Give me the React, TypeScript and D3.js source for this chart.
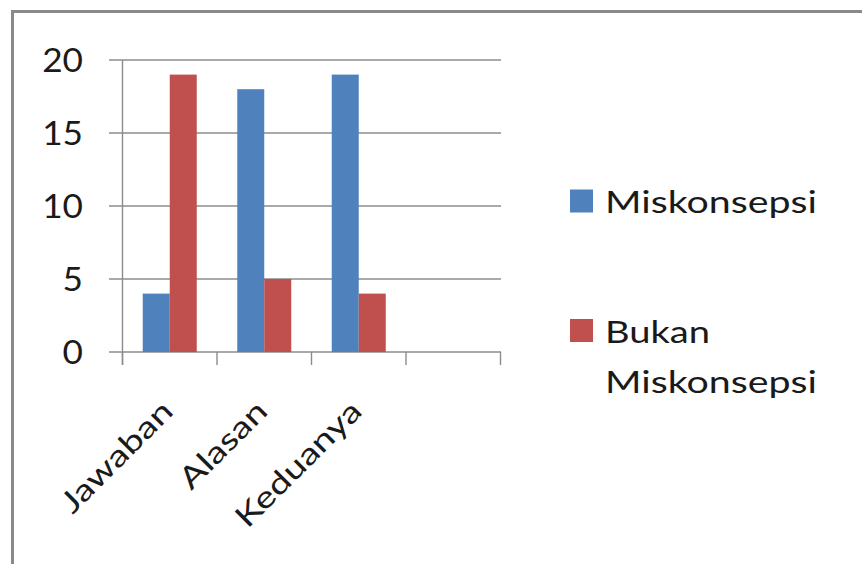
import React from "react";
import * as d3 from "d3";

const categories = ["Jawaban", "Alasan", "Keduanya", ""];
const seriesNames = ["Miskonsepsi", "Bukan Miskonsepsi"];
const miskonsepsi = [4, 18, 19, null];
const bukanMiskonsepsi = [19, 5, 4, null];
const yTicks = [0, 5, 10, 15, 20];
const colors = ["#4F81BD", "#C0504D"];

const FONT = "Lato, 'Open Sans', sans-serif";

export default function App() {
  const W = 862, H = 564;
  const x = d3.scaleBand<string>().domain(categories.map((c, i) => String(i))).range([122.5, 500.5]).padding(0);
  const xs = d3.scaleBand<string>().domain(["0", "1"]).range([0, x.bandwidth()]).paddingInner(0).paddingOuter(0.75);
  const y = d3.scaleLinear().domain([0, 20]).range([352, 60]);
  const seriesVals = [miskonsepsi, bukanMiskonsepsi];
  const boundaries = categories.map((_, i) => x(String(i))!).concat([x.range()[1]]);

  return (
    <svg width={W} height={H} style={{ position: "absolute", left: 0, top: 0 }}>
      <rect x={0} y={0} width={W} height={H} fill="#fff" />
      <path d="M12.5,564 V11.5 H862" fill="none" stroke="#8a8a8a" strokeWidth={3} />
      {/* gridlines */}
      {yTicks.map((t) => (
        <line key={t} x1={109} x2={501} y1={y(t)} y2={y(t)} stroke="#8c8c8c" strokeWidth={1.4} />
      ))}
      {/* y axis */}
      <line x1={122.5} x2={122.5} y1={y(20)} y2={y(0) + 13} stroke="#8c8c8c" strokeWidth={1.4} />
      {boundaries.map((b, i) => (
        <line key={i} x1={b} x2={b} y1={y(0)} y2={y(0) + 13} stroke="#8c8c8c" strokeWidth={1.4} />
      ))}
      {/* bars */}
      {categories.map((c, i) =>
        seriesVals.map((vals, s) => {
          const v = vals[i];
          if (v == null) return null;
          return (
            <rect
              key={`${i}-${s}`}
              x={x(String(i))! + xs(String(s))!}
              y={y(v)}
              width={xs.bandwidth()}
              height={y(0) - y(v)}
              fill={colors[s]}
            />
          );
        })
      )}
      {/* y labels */}
      {yTicks.map((t) => (
        <text
          key={t}
          transform={`translate(83,${y(t) + 11.5}) scale(1.1,1)`}
          textAnchor="end"
          fontFamily={FONT}
          fontSize={32}
          fill="#1a1a1a"
        >
          {t}
        </text>
      ))}
      {/* x labels */}
      {categories.map((c, i) =>
        c ? (
          <text
            key={c}
            transform={`translate(${x(String(i))! + x.bandwidth() / 2 + 5},${413}) rotate(-45) scale(1.27,1)`}
            textAnchor="end"
            fontFamily={FONT}
            fontSize={30}
            fill="#1a1a1a"
          >
            {c}
          </text>
        ) : null
      )}
      {/* legend */}
      <rect x={570} y={189.5} width={23} height={23} fill={colors[0]} />
      <text x={605} y={213} fontFamily={FONT} fontSize={30} fill="#1a1a1a" textLength={212} lengthAdjust="spacingAndGlyphs">
        {seriesNames[0]}
      </text>
      <rect x={570} y={319} width={23} height={23} fill={colors[1]} />
      <text x={605} y={343} fontFamily={FONT} fontSize={30} fill="#1a1a1a" textLength={105} lengthAdjust="spacingAndGlyphs">
        {seriesNames[1].split(" ")[0]}
      </text>
      <text x={605} y={393} fontFamily={FONT} fontSize={30} fill="#1a1a1a" textLength={212} lengthAdjust="spacingAndGlyphs">
        {seriesNames[1].split(" ")[1]}
      </text>
    </svg>
  );
}
